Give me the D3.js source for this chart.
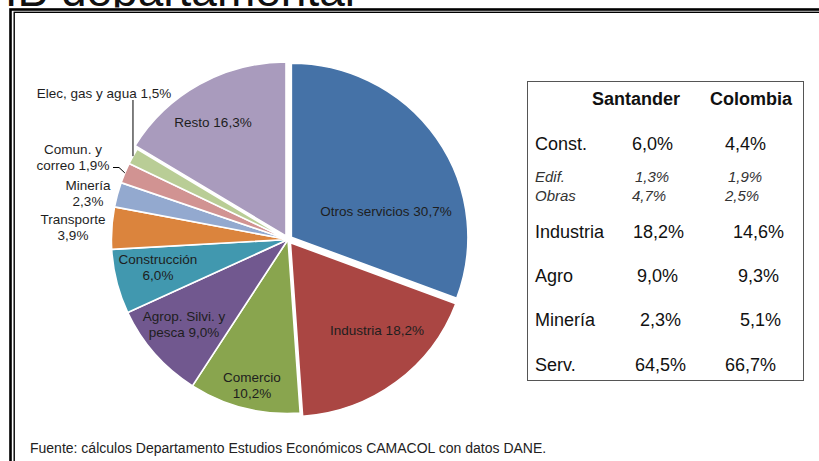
<!DOCTYPE html>
<html><head><meta charset="utf-8">
<script src="https://cdn.jsdelivr.net/npm/d3@7/dist/d3.min.js"></script>
<style>
body{margin:0;background:#fff}
svg{display:block}
text{font-family:"Liberation Sans",Arial,Helvetica,sans-serif}
</style>
</head><body>
<svg id="c" width="819" height="461"></svg>
<script>
// ---- data ----
const categories = ["Otros servicios","Industria","Comercio","Agrop. Silvi. y\npesca","Construcción","Transporte","Minería","Comun. y\ncorreo","Elec, gas y agua","Resto"];
const shares = [30.7,18.2,10.2,9.0,6.0,3.9,2.3,1.9,1.5,16.3];
const sliceColors = ["#4572A7","#AA4643","#89A54E","#71588F","#4198AF","#DB843D","#93A9CF","#D19392","#B9CD96","#A99BBD"];
const explodedSlices = ["Otros servicios","Industria","Resto"];
const valueOnNewLine = [false,false,true,false,true,true,true,false,false,false];

const tableHeaders = ["Santander","Colombia"];
const tableRows = ["Const.","Edif.","Obras","Industria","Agro","Minería","Serv."];
const santanderValues = [6.0,1.3,4.7,18.2,9.0,2.3,64.5];
const colombiaValues = [4.4,1.9,2.5,14.6,9.3,5.1,66.7];
const subRow = [false,true,true,false,false,false,false];

const titleText = "PIB departamental";
const sourceText = "Fuente: cálculos Departamento Estudios Económicos CAMACOL con datos DANE.";

// ---- layout ----
const svg = d3.select("#c");
const cx = 288, cy = 239.5, R = 174, sx = 1.015, explode = 4;
const labelPos = [[386,211],[377,330],[252,385],[184,324],[158,267],[73,227],[88,193],[73,157],[104,93],[213,122]];
const tableRowY = [144,177,196,232,276,320,365];
const santX = [632,635,632,633,637,640,635];
const colX = [725,728,725,733,738,740,725];
const fmt = v => d3.format(".1f")(v).replace(".", ",") + "%";

// title (cropped at top, partly covered by the chart panel)
svg.append("text").attr("x",-26).attr("y",6).attr("font-size",46).attr("fill","#111").text(titleText);
svg.append("rect").attr("x",0).attr("y",7.5).attr("width",819).attr("height",460).attr("fill","#fff");

// frame (double line)
svg.append("rect").attr("x",10.5).attr("y",9.5).attr("width",1000).attr("height",800)
  .attr("fill","none").attr("stroke","#000").attr("stroke-width",2.6);
svg.append("rect").attr("x",14.2).attr("y",12.3).attr("width",1000).attr("height",800)
  .attr("fill","none").attr("stroke","#000").attr("stroke-width",1.4);

// pie
const pie = d3.pie().sort(null).value(d => d)(shares);
const arc = d3.arc().innerRadius(0).outerRadius(R);
const g = svg.append("g").attr("transform",`translate(${cx},${cy}) scale(${sx},1)`);
g.selectAll("path").data(pie).join("path")
  .attr("d",arc)
  .attr("fill",(d,i)=>sliceColors[i])
  .attr("stroke","#fff").attr("stroke-width",1.6).attr("stroke-linejoin","round")
  .attr("transform",(d,i)=>{
    if(!explodedSlices.includes(categories[i])) return null;
    const a=(d.startAngle+d.endAngle)/2;
    return `translate(${Math.sin(a)*explode},${-Math.cos(a)*explode})`;
  });

// leader lines for small slices
function edgePoint(i){
  const d=pie[i]; const a=(d.startAngle+d.endAngle)/2;
  return [cx+Math.sin(a)*R*sx, cy-Math.cos(a)*R];
}
const iElec = categories.indexOf("Elec, gas y agua");
const iCom = categories.indexOf("Comun. y\ncorreo");
const pe = edgePoint(iElec), pc = edgePoint(iCom);
const line = d3.line();
svg.append("path").attr("d",line([[pe[0],100],[pe[0],pe[1]]]))
  .attr("fill","none").attr("stroke","#000").attr("stroke-width",1);
svg.append("path").attr("d",line([[113,167.5],[119,167.5],[pc[0],pc[1]]]))
  .attr("fill","none").attr("stroke","#000").attr("stroke-width",1);

// slice labels
categories.forEach((c,i)=>{
  const txt = c + (valueOnNewLine[i] ? "\n" : " ") + fmt(shares[i]);
  const lines = txt.split("\n");
  const lh = 16;
  const t = svg.append("text").attr("text-anchor","middle").attr("font-size",13.5).attr("fill","#1e1e1e");
  lines.forEach((l,k)=>{
    t.append("tspan").attr("x",labelPos[i][0])
     .attr("y",labelPos[i][1] - (lines.length-1)*lh/2 + k*lh + 5).text(l);
  });
});

// table
svg.append("rect").attr("x",527.5).attr("y",81.5).attr("width",276).attr("height",299)
  .attr("fill","#fff").attr("stroke","#555").attr("stroke-width",1);
const hx=[636,751];
tableHeaders.forEach((h,i)=>{
  svg.append("text").attr("x",hx[i]).attr("y",105).attr("text-anchor","middle")
    .attr("font-size",18).attr("font-weight","bold").attr("fill","#111").text(h);
});
tableRows.forEach((r,i)=>{
  const it = subRow[i];
  const fs = it?15:18, yb = tableRowY[i] + (it?5:6);
  const st = it?"italic":"normal", col = it?"#333":"#111";
  svg.append("text").attr("x",535).attr("y",yb).attr("font-size",fs).attr("font-style",st).attr("fill",col).text(r);
  svg.append("text").attr("x",santX[i]).attr("y",yb).attr("font-size",fs).attr("font-style",st).attr("fill",col).text(fmt(santanderValues[i]));
  svg.append("text").attr("x",colX[i]).attr("y",yb).attr("font-size",fs).attr("font-style",st).attr("fill",col).text(fmt(colombiaValues[i]));
});

// source
svg.append("text").attr("x",30).attr("y",453).attr("font-size",14).attr("fill","#222").text(sourceText);
</script>
</body></html>
